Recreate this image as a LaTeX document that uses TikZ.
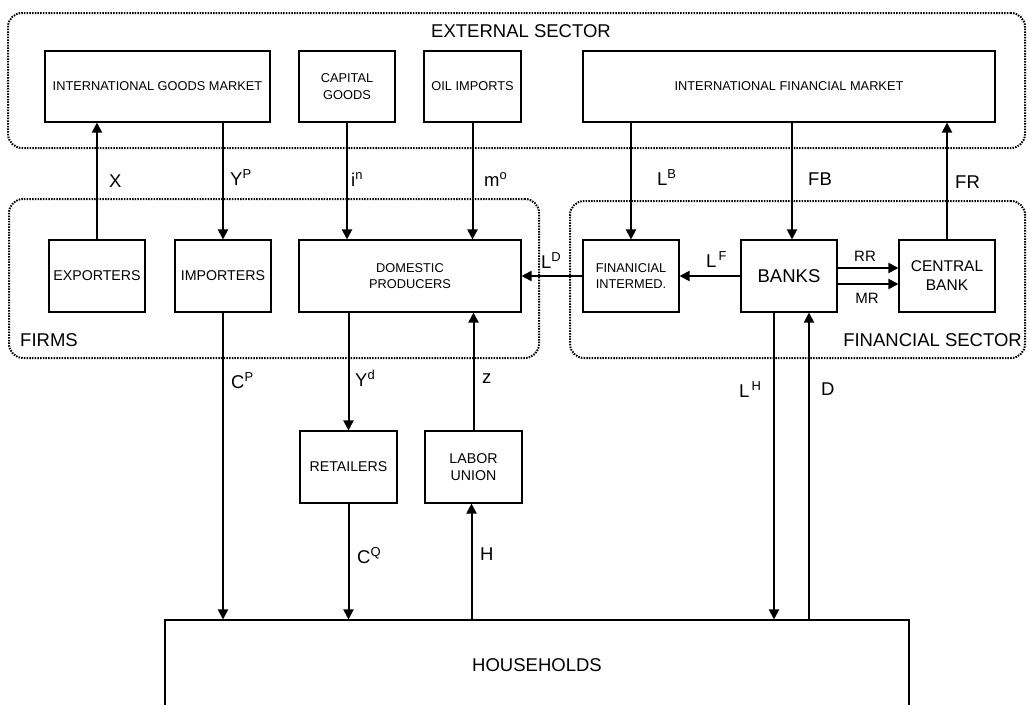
\documentclass[tikz,border=0pt]{standalone}
\usepackage{fontspec}
\setmainfont{Liberation Sans}
\usetikzlibrary{arrows.meta}
\begin{document}
\begin{tikzpicture}[x=1pt,y=-1pt,
 box/.style={draw, line width=1.1pt, inner sep=0pt, align=center},
 grp/.style={draw, line width=2pt, dash pattern=on 1.5pt off 1.2pt, rounded corners=14pt, inner sep=0pt},
 conn/.style={line width=2pt, -{Triangle[length=10pt,width=10pt]}},
 big/.style={font=\fontsize{18.5}{21}\selectfont},
 mid/.style={font=\fontsize{14.2}{17.5}\selectfont},
 cbf/.style={font=\fontsize{15.5}{19}\selectfont},
 sm/.style={font=\fontsize{12.8}{16.5}\selectfont},
 lab/.style={big, anchor=base west, inner sep=0pt},
 flab/.style={font=\fontsize{15}{18}\selectfont, anchor=base, inner sep=0pt}]
\useasboundingbox (0,0) rectangle (1027,704);

% groups
\node[grp, minimum width=1017pt, minimum height=135pt] (ext) at (516.5,80.5) {};
\node[grp, minimum width=530pt, minimum height=159pt] (firms) at (274,278.5) {};
\node[grp, minimum width=455pt, minimum height=157pt] (fin) at (797.5,279.5) {};
\node[big, inner sep=0pt] (extl) at (521,31) {EXTERNAL SECTOR};
\node[big, inner sep=0pt, anchor=west] (firmsl) at (20,340) {FIRMS};
\node[big, inner sep=0pt, anchor=east] (finl) at (1022,340) {FINANCIAL SECTOR};

% top boxes
\node[box, sm, minimum width=225pt, minimum height=71pt] (igm) at (157.5,86.5) {INTERNATIONAL GOODS MARKET};
\node[box, sm, minimum width=96pt, minimum height=71pt, font=\fontsize{12.8}{17}\selectfont] (cap) at (347,86.5) {CAPITAL\\GOODS};
\node[box, sm, minimum width=97pt, minimum height=71pt] (oil) at (472.5,86.5) {OIL IMPORTS};
\node[box, sm, minimum width=412pt, minimum height=71pt] (ifm) at (789,86.5) {INTERNATIONAL FINANCIAL MARKET};

% middle boxes
\node[box, mid, minimum width=96pt, minimum height=72pt] (exp) at (97,276) {EXPORTERS};
\node[box, mid, minimum width=96pt, minimum height=72pt] (imp) at (223,276) {IMPORTERS};
\node[box, sm, minimum width=222pt, minimum height=72pt] (dp) at (410,276) {DOMESTIC\\PRODUCERS};
\node[box, sm, minimum width=96pt, minimum height=72pt] (fi) at (631,276) {FINANICIAL\\INTERMED.};
\node[box, big, minimum width=96pt, minimum height=72pt] (banks) at (789,276) {BANKS};
\node[box, cbf, minimum width=96pt, minimum height=72pt] (cb) at (947,276) {CENTRAL\\BANK};

% bottom boxes
\node[box, mid, minimum width=97pt, minimum height=72pt] (ret) at (348.5,467) {RETAILERS};
\node[box, mid, minimum width=97pt, minimum height=72pt] (lu) at (473.5,467) {LABOR\\UNION};
\node[box, big, minimum width=744pt, minimum height=90pt] (hh) at (537,665) {HOUSEHOLDS};

% connectors
\draw[conn] (exp.north) -- (exp.north |- igm.south);
\draw[conn] (igm.south -| imp.north) -- (imp.north);
\draw[conn] (cap.south) -- (cap.south |- dp.north);
\draw[conn] (oil.south) -- (oil.south |- dp.north);
\draw[conn] (ifm.south -| fi.north) -- (fi.north);
\coordinate (fbA) at ([xshift=3pt]banks.north);
\draw[conn] (ifm.south -| fbA) -- (fbA);
\draw[conn] (cb.north) -- (cb.north |- ifm.south);
\draw[conn] (fi.west) -- (fi.west -| dp.east);
\draw[conn] (banks.west) -- (banks.west -| fi.east);
\draw[conn] ([yshift=8pt]banks.east) -- ([yshift=8pt]banks.east -| cb.west);
\draw[conn] ([yshift=-8pt]banks.east) -- ([yshift=-8pt]banks.east -| cb.west);
\draw[conn] (imp.south) -- (imp.south |- hh.north);
\draw[conn] (dp.south -| ret.north) -- (ret.north);
\draw[conn] (lu.north) -- (lu.north |- dp.south);
\draw[conn] (ret.south) -- (ret.south |- hh.north);
\coordinate (hA) at ([xshift=-2pt]lu.south);
\draw[conn] (hh.north -| hA) -- (hA);
\coordinate (lhA) at ([xshift=-15pt]banks.south);
\draw[conn] (lhA) -- (lhA |- hh.north);
\coordinate (dA) at ([xshift=20pt]banks.south);
\draw[conn] (dA |- hh.north) -- (dA);

% labels
\node[lab] (lX) at (109,187) {X};
\node[lab] (lYP) at (230,185) {Y\textsuperscript{P}};
\node[lab] (lin) at (351,186) {i\textsuperscript{n}};
\node[lab] (lmo) at (484,186) {m\textsuperscript{o}};
\node[lab] (lLB) at (657,185) {L\textsuperscript{B}};
\node[lab] (lFB) at (808,185) {FB};
\node[lab] (lFR) at (955,188) {FR};
\node[lab] (lLD) at (541,268) {L\textsuperscript{D}};
\node[lab] (lLF) at (706,267) {L\textsuperscript{\,F}};
\node[flab] (lRR) at (865,261) {RR};
\node[flab] (lMR) at (867,303) {MR};
\node[lab] (lCP) at (231,388) {C\textsuperscript{P}};
\node[lab] (lYd) at (355,386) {Y\textsuperscript{d}};
\node[lab] (lz) at (482,383) {z};
\node[lab] (lLH) at (739,397) {L\textsuperscript{\,H}};
\node[lab] (lD) at (821,395) {D};
\node[lab] (lCQ) at (357,563) {C\textsuperscript{Q}};
\node[lab] (lH) at (480,560) {H};
\end{tikzpicture}
\end{document}
